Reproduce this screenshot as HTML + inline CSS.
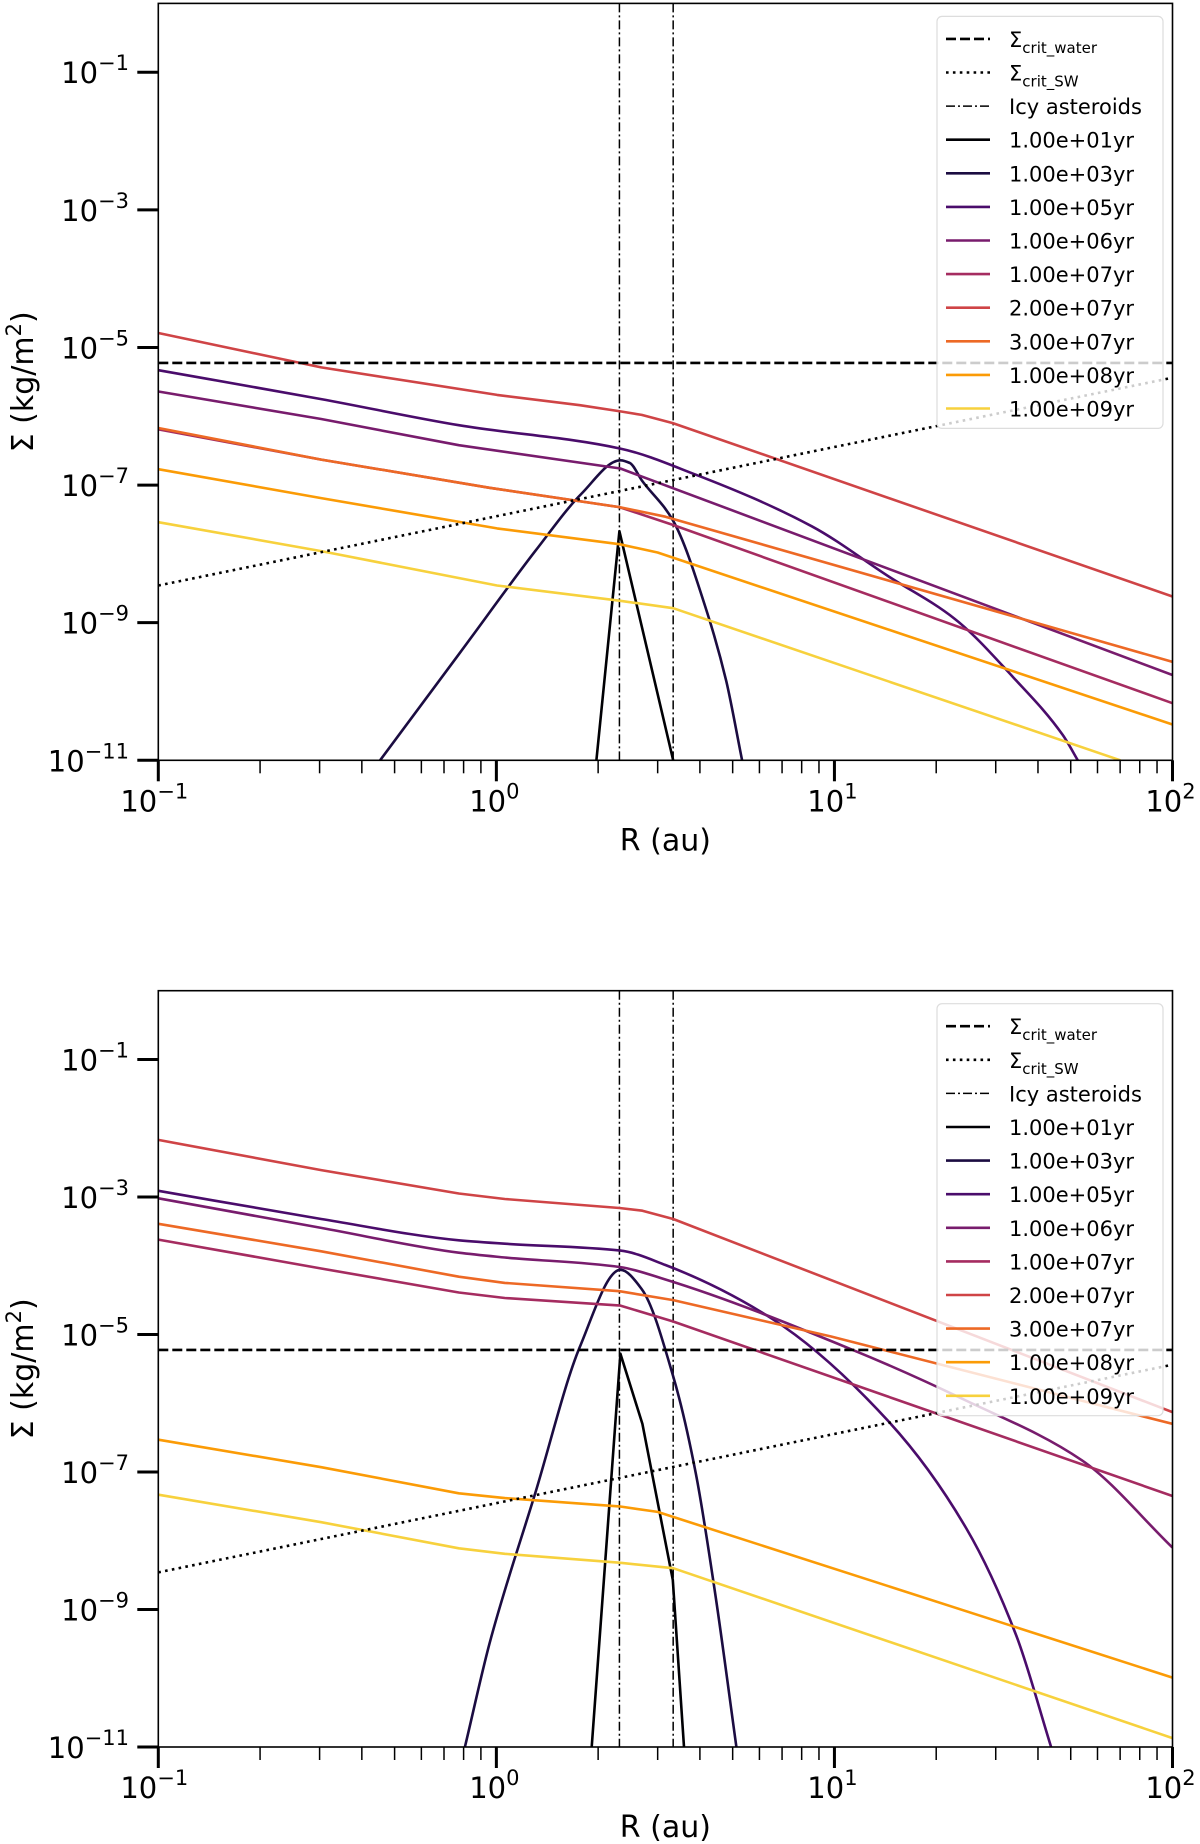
<!DOCTYPE html>
<html><head><meta charset="utf-8">
<style>
html,body{margin:0;padding:0;background:#fff;}
svg{display:block;font-family:"DejaVu Sans","Liberation Sans",sans-serif;}
</style></head>
<body>
<svg id="fig" width="1200" height="1844" viewBox="0 0 1200 1844" xmlns="http://www.w3.org/2000/svg"></svg>
<script>
// ---------- data (log10 R [au], log10 Sigma [kg/m^2]) ----------
const seriesLabels = ["1.00e+01yr","1.00e+03yr","1.00e+05yr","1.00e+06yr","1.00e+07yr","2.00e+07yr","3.00e+07yr","1.00e+08yr","1.00e+09yr"];
const seriesColors = ["#000004","#1b0c41","#4a0c6b","#781c6d","#a52c60","#cf4446","#ed6925","#fb9b06","#f7d13d"];
const xTickExps = [-1,0,1,2];
const yTickExps = [-11,-9,-7,-5,-3,-1];
const icyAsteroidsLogR = [0.364,0.523];
const critWaterLog = -5.225;
const critSWLog = [[-1,-8.46],[2,-5.44]];

const topYr1e1 = [[0.296,-11],[0.364,-7.67],[0.523,-11]];
const topYr1e3 = [[-0.344,-11],[-0.111,-9.46],[0.115,-7.96],[0.251,-7.13],[0.367,-6.64],[0.395,-6.68],[0.43,-6.93],[0.522,-7.51],[0.624,-8.86],[0.68,-9.85],[0.727,-11]];
const topYr1e5 = [[-1,-5.33],[-0.518,-5.75],[-0.111,-6.13],[0.367,-6.47],[0.59,-6.85],[0.933,-7.6],[1.161,-8.33],[1.355,-8.94],[1.53,-9.8],[1.675,-10.63],[1.72,-11]];
const topYr1e6 = [[-1,-5.64],[-0.518,-6.04],[-0.111,-6.42],[0.367,-6.76],[2,-9.76]];
const topYr1e7 = [[-1,-6.19],[-0.518,-6.63],[-0.02,-7.04],[0.364,-7.32],[0.523,-7.58],[2,-10.17]];
const topYr2e7 = [[-1,-4.79],[-0.518,-5.29],[0.002,-5.69],[0.247,-5.84],[0.367,-5.93],[0.43,-5.98],[0.522,-6.1],[2,-8.62]];
const topYr3e7 = [[-1,-6.17],[-0.518,-6.63],[-0.02,-7.04],[0.364,-7.32],[0.5,-7.46],[2,-9.57]];
const topYr1e8 = [[-1,-6.77],[-0.518,-7.19],[0.002,-7.63],[0.364,-7.86],[0.477,-7.98],[2,-10.48]];
const topYr1e9 = [[-1,-7.54],[-0.518,-7.96],[0.002,-8.46],[0.364,-8.68],[0.523,-8.79],[1.846,-11]];

const botYr1e1 = [[0.282,-11],[0.367,-5.28],[0.432,-6.3],[0.522,-8.57],[0.555,-11]];
const botYr1e3 = [[-0.093,-11],[-0.02,-9.49],[0.115,-7.31],[0.247,-5.18],[0.367,-4.06],[0.43,-4.34],[0.522,-5.59],[0.59,-7.02],[0.647,-8.76],[0.71,-11]];
const botYr1e5 = [[-1,-2.91],[-0.518,-3.32],[-0.111,-3.63],[0.025,-3.68],[0.367,-3.78],[0.5,-3.99],[0.818,-4.78],[1.161,-6.27],[1.39,-7.82],[1.538,-9.38],[1.641,-11]];
const botYr1e6 = [[-1,-3.02],[-0.518,-3.45],[-0.111,-3.81],[0.025,-3.88],[0.367,-4.02],[0.5,-4.2],[1.047,-5.21],[1.389,-5.96],[1.732,-6.83],[2,-8.1]];
const botYr1e7 = [[-1,-3.62],[-0.518,-4.04],[-0.111,-4.39],[0.025,-4.47],[0.367,-4.58],[0.522,-4.81],[2,-7.35]];
const botYr2e7 = [[-1,-2.17],[-0.518,-2.61],[-0.111,-2.95],[0.025,-3.03],[0.364,-3.16],[0.432,-3.2],[0.523,-3.32],[2,-6.13]];
const botYr3e7 = [[-1,-3.39],[-0.518,-3.79],[-0.111,-4.16],[0.025,-4.25],[0.364,-4.37],[0.523,-4.5],[0.99,-5.03],[2,-6.3]];
const botYr1e8 = [[-1,-6.53],[-0.518,-6.93],[-0.111,-7.31],[0.025,-7.38],[0.364,-7.5],[0.477,-7.58],[2,-9.99]];
const botYr1e9 = [[-1,-7.33],[-0.518,-7.73],[-0.111,-8.11],[0.025,-8.19],[0.364,-8.32],[0.523,-8.4],[2,-10.87]];

const topSeries = [topYr1e1,topYr1e3,topYr1e5,topYr1e6,topYr1e7,topYr2e7,topYr3e7,topYr1e8,topYr1e9];
const botSeries = [botYr1e1,botYr1e3,botYr1e5,botYr1e6,botYr1e7,botYr2e7,botYr3e7,botYr1e8,botYr1e9];
const topSmooth = [false,true,true,false,false,false,false,false,false];
const botSmooth = [false,true,true,true,false,false,false,false,false];

// ---------- drawing ----------
const NS = "http://www.w3.org/2000/svg";
const svg = document.getElementById("fig");
function mk(tag, attrs, parent){
  const e = document.createElementNS(NS, tag);
  for (const k in attrs) e.setAttribute(k, attrs[k]);
  (parent||svg).appendChild(e);
  return e;
}
function linePath(pts){
  return pts.map((p,j)=>(j?"L":"M")+p[0].toFixed(1)+","+p[1].toFixed(1)).join(" ");
}
function monotonePath(pts){
  const n = pts.length;
  const f = v => v.toFixed(1);
  if (n < 3) return linePath(pts);
  const dx = [], sl = [];
  for (let i = 0; i < n-1; i++){ dx.push(pts[i+1][0]-pts[i][0]); sl.push((pts[i+1][1]-pts[i][1])/dx[i]); }
  const m = [sl[0]];
  for (let i = 1; i < n-1; i++){
    if (sl[i-1]*sl[i] <= 0) m.push(0);
    else { const w1 = 2*dx[i]+dx[i-1], w2 = dx[i]+2*dx[i-1]; m.push((w1+w2)/(w1/sl[i-1]+w2/sl[i])); }
  }
  m.push(sl[n-2]);
  let d = "M" + f(pts[0][0]) + "," + f(pts[0][1]);
  for (let i = 0; i < n-1; i++){
    const h = dx[i]/3;
    d += " C" + f(pts[i][0]+h) + "," + f(pts[i][1]+m[i]*h) + " " + f(pts[i+1][0]-h) + "," + f(pts[i+1][1]-m[i+1]*h) + " " + f(pts[i+1][0]) + "," + f(pts[i+1][1]);
  }
  return d;
}

function drawPanel(idx, top, bottom, series, smooth){
  const L = 158.3, R = 1172.5;
  const xMin=-1, xMax=2, yMin=-11, yMax=0;
  const sx = v => L + (v - xMin)/(xMax - xMin)*(R - L);
  const sy = v => bottom - (v - yMin)/(yMax - yMin)*(bottom - top);
  const g = mk("g", {});
  
  
  const clipId = "clip" + idx;
  const cp = mk("clipPath", {id: clipId}, g);
  mk("rect", {x:L, y:top, width:R-L, height:bottom-top}, cp);
  const plot = mk("g", {"clip-path": "url(#" + clipId + ")"}, g);
  
  

  icyAsteroidsLogR.forEach(v => {
    const l = mk("line", {x1:sx(v), x2:sx(v), y1:top, y2:bottom, stroke:"#000", "stroke-width":1.5, "stroke-dasharray":"9,3,2,3"}, plot);
    
    
  });
  series.forEach((s, i) => {
    const pts = s.map(p => [sx(p[0]), sy(p[1])]);
    const d = smooth[i] ? monotonePath(pts) : linePath(pts);
    const p = mk("path", {d: d, fill:"none", stroke: seriesColors[i], "stroke-width":2.6, "stroke-linejoin":"round"}, plot);
    
    
  });
  const w = mk("line", {x1:L, x2:R, y1:sy(critWaterLog), y2:sy(critWaterLog), stroke:"#000", "stroke-width":2.6, "stroke-dasharray":"10,4"}, plot);
  
  
  const sw = mk("line", {x1:sx(critSWLog[0][0]), y1:sy(critSWLog[0][1]), x2:sx(critSWLog[1][0]), y2:sy(critSWLog[1][1]), stroke:"#000", "stroke-width":2.6, "stroke-dasharray":"2.6,4.3"}, plot);
  
  

  const fr = mk("rect", {x:L, y:top, width:R-L, height:bottom-top, fill:"none", stroke:"#000", "stroke-width":1.6}, g);
  
  

  for (let d = xMin; d <= xMax; d++){
    const x = sx(d);
    mk("line", {x1:x, x2:x, y1:bottom, y2:bottom+21, stroke:"#000", "stroke-width":3}, g);
    if (d < xMax){
      for (let m = 2; m <= 9; m++){
        const xm = sx(d + Math.log10(m));
        mk("line", {x1:xm, x2:xm, y1:bottom, y2:bottom+13, stroke:"#000", "stroke-width":1.5}, g);
      }
    }
  }
  xTickExps.forEach(e => {
    const t = mk("text", {x:sx(e)+(e<0?-4:-2), y:bottom+51, "font-size":29, "text-anchor":"middle"}, g);
    
    
    t.innerHTML = '10<tspan dy="-13" font-size="21">' + (e<0 ? "\u2212" + (-e) : e) + '</tspan>';
  });
  yTickExps.forEach(e => {
    const y = sy(e);
    mk("line", {x1:L-21, x2:L, y1:y, y2:y, stroke:"#000", "stroke-width":3}, g);
    const t = mk("text", {x:129, y:y+11, "font-size":29, "text-anchor":"end"}, g);
    
    
    t.innerHTML = '10<tspan dy="-13" font-size="21">\u2212' + (-e) + '</tspan>';
  });
  const xt = mk("text", {x:(L+R)/2, y:bottom+90, "font-size":30, "text-anchor":"middle"}, g);
  
  
  xt.textContent = "R (au)";
  const cy = (top+bottom)/2;
  const yt = mk("text", {x:0, y:0, "font-size":30, "text-anchor":"middle", transform:"translate(33," + cy + ") rotate(-90)"}, g);
  
  
  yt.innerHTML = '\u03A3 (kg/m<tspan dy="-12" font-size="21">2</tspan><tspan dy="12">)</tspan>';

  const lg = mk("g", {}, g);
  
  
  const lx = 937, ly = top + 13;
  mk("rect", {x:lx, y:ly, width:226, height:412, rx:5, fill:"rgba(255,255,255,0.8)", stroke:"#ddd", "stroke-width":1.2}, lg);
  const rowY = k => top + 35.5 + k*33.6;
  const entries = [
    {dash:"10,4", color:"#000", html:'\u03A3<tspan dy="6" font-size="15">crit_water</tspan>', name:"legend-entry-crit-water"},
    {dash:"2.6,4.3", color:"#000", html:'\u03A3<tspan dy="6" font-size="15">crit_SW</tspan>', name:"legend-entry-crit-sw"},
    {dash:"9,3,2,3", color:"#000", html:'Icy asteroids', name:"legend-entry-icy-asteroids", w:1.5}
  ];
  seriesLabels.forEach((s,i) => entries.push({dash:null, color:seriesColors[i], html:s, name:"legend-entry-" + s}));
  entries.forEach((en, k) => {
    const y = rowY(k);
    const eg = mk("g", {}, lg);
    
    
    const a = {x1:946, x2:990, y1:y, y2:y, stroke:en.color, "stroke-width":en.w||2.6};
    if (en.dash) a["stroke-dasharray"] = en.dash;
    mk("line", a, eg);
    const t = mk("text", {x:1009, y:y+8, "font-size":21}, eg);
    t.innerHTML = en.html;
  });
}

drawPanel(0, 3.4, 760.3, topSeries, topSmooth);
drawPanel(1, 990.7, 1747, botSeries, botSmooth);
</script>
</body></html>
